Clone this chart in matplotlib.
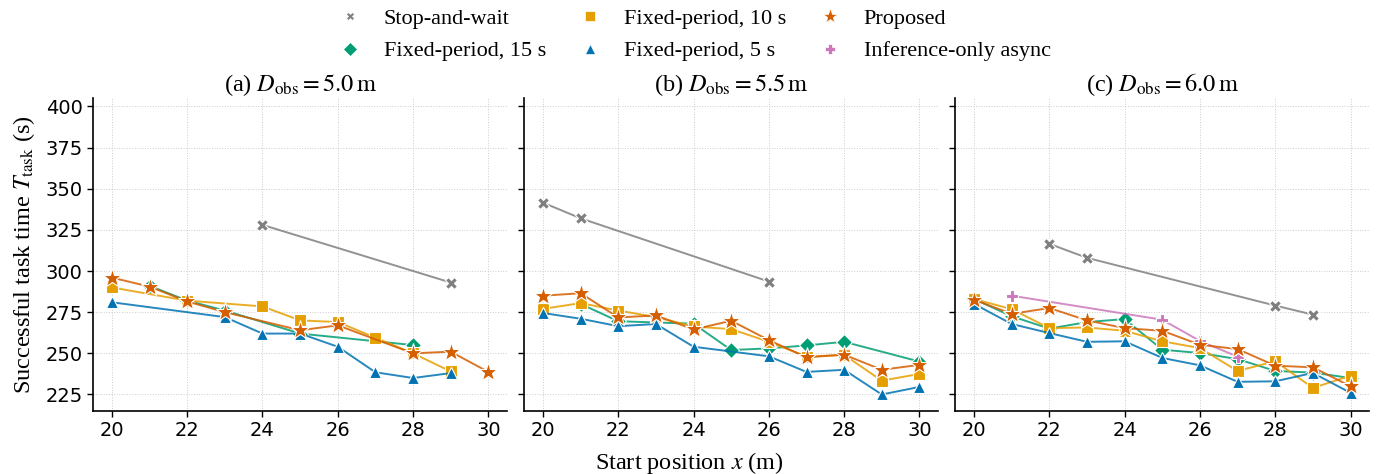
import numpy as np
import matplotlib
matplotlib.use("Agg")
import matplotlib.pyplot as plt

plt.rcParams['font.family'] = ['Liberation Serif', 'DejaVu Serif']
plt.rcParams['mathtext.fontset'] = 'stix'
plt.rcParams['font.size'] = 17

# Daten: Startposition x -> Aufgabenzeit T_task (s), je Panel (D_obs)
titles = [r"(a) $D_{\mathrm{obs}}=5.0\,\mathrm{m}$",
          r"(b) $D_{\mathrm{obs}}=5.5\,\mathrm{m}$",
          r"(c) $D_{\mathrm{obs}}=6.0\,\mathrm{m}$"]

# Panel (a)
a_stop_x = [24, 29]
a_stop_y = [328, 293]
a_f15_x = [21, 22, 23, 25, 28]
a_f15_y = [291, 282, 276, 262, 255]
a_f10_x = [20, 22, 24, 25, 26, 27, 28, 29]
a_f10_y = [290, 282, 278.5, 270, 269, 259.5, 250, 239]
a_f5_x = [20, 23, 24, 25, 26, 27, 28, 29]
a_f5_y = [281, 272, 262, 262, 254, 238.5, 235, 238]
a_prop_x = [20, 21, 22, 23, 25, 26, 28, 29, 30]
a_prop_y = [296, 290.5, 281.5, 275, 264, 267, 250, 251, 238.7]
a_inf_x = []
a_inf_y = []

# Panel (b)
b_stop_x = [20, 21, 26]
b_stop_y = [341.5, 332, 293.6]
b_f15_x = [21, 22, 24, 25, 26, 27, 28, 30]
b_f15_y = [280, 269.5, 268, 252, 253, 254.8, 257, 245]
b_f10_x = [20, 21, 22, 23, 24, 25, 26, 27, 28, 29, 30]
b_f10_y = [277, 280.5, 276, 272, 266.3, 264.7, 257, 248, 249, 233.4, 237.5]
b_f5_x = [20, 21, 22, 23, 24, 26, 27, 28, 29, 30]
b_f5_y = [274.5, 271, 266.5, 267.8, 254, 248.2, 238.7, 240, 225, 229.6]
b_prop_x = [20, 21, 22, 23, 24, 25, 26, 27, 28, 29, 30]
b_prop_y = [285, 286.5, 271.8, 273, 264.5, 269.8, 258, 247.6, 249.2, 240, 243]
b_inf_x = []
b_inf_y = []

# Panel (c)
c_stop_x = [22, 23, 28, 29]
c_stop_y = [316.5, 308, 279, 273.5]
c_f15_x = [20, 21, 22, 23, 24, 25, 26, 27, 28, 29, 30]
c_f15_y = [283, 272.5, 265, 269, 270.8, 252.2, 250.2, 246.5, 239.3, 238.3, 235]
c_f10_x = [20, 21, 22, 23, 24, 25, 26, 27, 28, 29, 30]
c_f10_y = [283, 276.8, 265.3, 265.7, 263.7, 257.3, 253.2, 239.3, 245.2, 229, 236.4]
c_f5_x = [20, 21, 22, 23, 24, 25, 26, 27, 28, 29, 30]
c_f5_y = [280, 267.8, 262.3, 257, 257.3, 247.2, 242.7, 232.7, 233, 238.1, 226]
c_prop_x = [20, 21, 22, 23, 24, 25, 26, 27, 28, 29, 30]
c_prop_y = [282.5, 274, 277.5, 270, 265.3, 263.7, 255.2, 252.6, 242.5, 241.5, 230]
c_inf_x = [21, 25, 26, 27]
c_inf_y = [285, 270.4, 257.5, 248]

panels = [
    [(a_stop_x, a_stop_y), (a_f15_x, a_f15_y), (a_f10_x, a_f10_y),
     (a_f5_x, a_f5_y), (a_prop_x, a_prop_y), (a_inf_x, a_inf_y)],
    [(b_stop_x, b_stop_y), (b_f15_x, b_f15_y), (b_f10_x, b_f10_y),
     (b_f5_x, b_f5_y), (b_prop_x, b_prop_y), (b_inf_x, b_inf_y)],
    [(c_stop_x, c_stop_y), (c_f15_x, c_f15_y), (c_f10_x, c_f10_y),
     (c_f5_x, c_f5_y), (c_prop_x, c_prop_y), (c_inf_x, c_inf_y)],
]

labels = ["Stop-and-wait", "Fixed-period, 15 s", "Fixed-period, 10 s",
          "Fixed-period, 5 s", "Proposed", "Inference-only async"]
colors = ["#7f7f7f", "#029E73", "#E69F00", "#0173B2", "#D55E00", "#CC78BC"]
markers = ["X", "D", "s", "^", "*", "P"]
msizes = [8, 8, 9, 9, 14, 9]
leg_sizes = [6, 7.5, 7, 7, 11, 7.5]
# Zeichenreihenfolge
zorders = [3, 4, 5, 6, 8, 7]

fig, axes = plt.subplots(1, 3, figsize=(13.79, 4.74), dpi=100, sharey=True)
fig.subplots_adjust(left=0.0675, right=0.993, bottom=0.133, top=0.793, wspace=0.041)

for ax, series, title in zip(axes, panels, titles):
    for (xs, ys), lab, col, mk, ms, zo in zip(series, labels, colors, markers, msizes, zorders):
        if len(xs) == 0:
            continue
        ax.plot(xs, ys, color=col, lw=1.4, alpha=0.85, zorder=zo)
        ax.plot(xs, ys, ls='none', marker=mk, ms=ms, color=col,
                mec='white', mew=0.8, zorder=zo + 0.5)
    ax.set_title(title, fontsize=17.5, pad=5)
    ax.set_xlim(19.5, 30.5)
    ax.set_ylim(215, 405)
    ax.set_xticks(np.arange(20, 31, 2))
    ax.set_yticks(np.arange(225, 401, 25))
    ax.grid(True, ls=':', lw=0.7, color='#cccccc')
    ax.spines['top'].set_visible(False)
    ax.spines['right'].set_visible(False)
    ax.spines['left'].set_linewidth(1.2)
    ax.spines['bottom'].set_linewidth(1.2)
    ax.tick_params(labelsize=14, width=1.0, length=4)
    for t in ax.get_xticklabels() + ax.get_yticklabels():
        t.set_fontfamily('DejaVu Sans')

axes[0].set_ylabel(r"Successful task time $T_{\mathrm{task}}$ (s)", fontsize=17.5, labelpad=6)
fig.text(0.5, 0.01, r"Start position $x$ (m)", ha='center', fontsize=17.5)

handles = [plt.Line2D([], [], ls='none', marker=mk, color=col, ms=ms,
                      mec='white', mew=0.5)
           for col, mk, ms in zip(colors, markers, leg_sizes)]
fig.legend(handles, labels, loc='upper center', ncol=3, frameon=False,
           bbox_to_anchor=(0.5, 1.025), fontsize=16, columnspacing=1.0,
           handletextpad=0.5, labelspacing=0.55)

fig.savefig("out.png", dpi=100)
